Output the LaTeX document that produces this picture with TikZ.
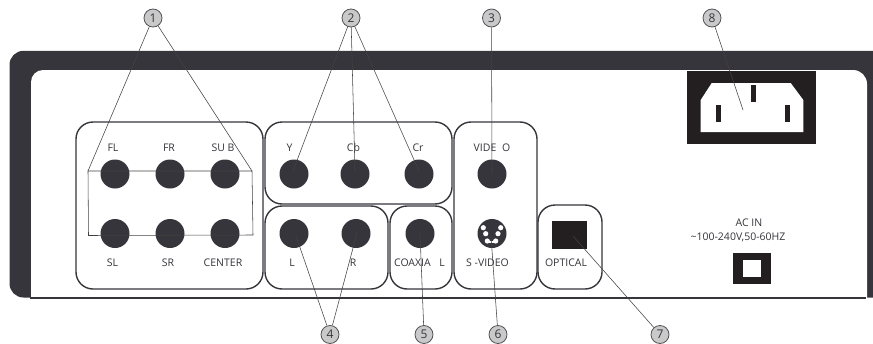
\documentclass[tikz,border=0pt]{standalone}
\usepackage{fontspec}
\setmainfont{Open Sans}
\usetikzlibrary{positioning}
\definecolor{chassis}{HTML}{36353B}
\definecolor{inkblack}{HTML}{231F20}
\definecolor{calloutgray}{HTML}{C9C9C9}
\tikzset{
  panel/.style={draw=chassis, line width=1.4pt, rounded corners=17pt, inner sep=0pt},
  jack/.style={circle, fill=chassis, minimum size=29pt, inner sep=0pt},
  tag/.style={text=chassis, font=\fontsize{10.5}{11}\selectfont, inner sep=0pt},
  callout/.style={circle, draw=chassis!85, line width=0.8pt, fill=calloutgray, text=chassis, minimum size=18pt, inner sep=0pt, font=\fontsize{12}{12}\selectfont},
  leader/.style={draw=inkblack!85, line width=0.55pt},
  hole/.style={circle, fill=white, minimum size=5.2pt, inner sep=0pt},
}
\begin{document}
\begin{tikzpicture}[x=1pt, y=-1pt]
  \useasboundingbox (0,0) rectangle (873,343);

  % Chassis
  \fill[chassis] (873,50.8) [rounded corners=14pt] -- (9.5,50.8) -- (9.5,297.5) [sharp corners] -- (873,297.5) -- cycle;
  \fill[white] (31,298) [rounded corners=12pt] -- (31,70) [rounded corners=14pt] -- (867,70) [sharp corners] -- (867,298) -- cycle;
  \fill[chassis] (30,297.4) rectangle (866,298.8);

  % Panels
  \node[panel, minimum width=187pt, minimum height=167pt] (boxSurround) at (169.5,205.5) {};
  \node[panel, minimum width=187pt, minimum height=82pt] (boxComponent) at (358.5,163) {};
  \node[panel, minimum width=123pt, minimum height=83pt] (boxStereo) at (326.5,247.5) {};
  \node[panel, minimum width=62pt, minimum height=83pt] (boxCoax) at (421,247.5) {};
  \node[panel, minimum width=83pt, minimum height=167pt] (boxVideo) at (495.5,205.5) {};
  \node[panel, minimum width=64pt, minimum height=84pt] (boxOptical) at (570,247) {};

  % Surround jacks
  \node[jack] (jackFL) at (115,174) {};
  \node[jack, on grid, right=55pt of jackFL] (jackFR) {};
  \node[jack, on grid, right=55pt of jackFR] (jackSUB) {};
  \node[jack, on grid, below=59.5pt of jackFL] (jackSL) {};
  \node[jack, on grid, right=55pt of jackSL] (jackSR) {};
  \node[jack, on grid, right=55pt of jackSR] (jackCEN) {};

  % Component and stereo jacks
  \node[jack] (jackY) at (294,174) {};
  \node[jack, on grid, right=61pt of jackY] (jackCb) {};
  \node[jack, on grid, right=64pt of jackCb] (jackCr) {};
  \node[jack, on grid, below=59.5pt of jackY] (jackL) {};
  \node[jack, on grid, right=62pt of jackL] (jackR) {};
  \node[jack, on grid, right=64pt of jackR] (jackCoax) {};
  \node[jack] (jackVideo) at (492,174) {};
  \node[jack, on grid, below=59.5pt of jackVideo] (jackSVideo) {};

  % S-video pins
  \foreach \px/\py in {-4.7/-7.5, 3.7/-7.5, -6.3/-0.2, 6/-0.2, -8.7/5.8, 8.7/5.8}
    \node[hole] at ([shift={(\px pt,\py pt)}]jackSVideo.center) {};
  \fill[white] (488.3,240.7) rectangle (496.3,243.4);

  % Optical port and mains parts
  \fill[inkblack] (552,221) rectangle (587,249);
  \fill[inkblack] (687,71) rectangle (816,144);
  \fill[white] (700.7,132) -- (700.7,100) -- (711.7,83) -- (790.7,83) -- (803.3,100) -- (803.3,132) -- cycle;
  \fill[inkblack] (751,85) rectangle (756,102);
  \fill[inkblack] (716,105) rectangle (721,122);
  \fill[inkblack] (785,105) rectangle (790,122);
  \fill[inkblack] (733,253) rectangle (771,284);
  \fill[white] (743,260) rectangle (761,277);

  % Labels
  \node[tag] (txtFL) at (113,148) {FL};
  \node[tag] (txtFR) at (169,148) {FR};
  \node[tag] (txtSUB) at (223,148) {SU B};
  \node[tag] (txtSL) at (112.5,263) {SL};
  \node[tag] (txtSR) at (168,263) {SR};
  \node[tag] (txtCEN) at (223,263) {CENTER};
  \node[tag] (txtY) at (289.5,148) {Y};
  \node[tag] (txtCb) at (353.5,148) {Cb};
  \node[tag] (txtCr) at (418,148) {Cr};
  \node[tag] (txtVideo) at (492,148) {VIDE\hspace{3pt} O};
  \node[tag] (txtL) at (292,263) {L};
  \node[tag] (txtR) at (353,263) {R};
  \node[tag] (txtCoax) at (419.5,263) {COAXIA\hspace{6pt} L};
  \node[tag] (txtSVideo) at (487.5,263) {S -VIDEO};
  \node[tag] (txtOptical) at (566,263) {OPTICAL};
  \node[tag] (txtAC) at (749,223) {AC IN};
  \node[tag] (txtRange) at (738,237) {\textasciitilde100-240V,50-60HZ};

  % Callouts
  \node[callout] (num1) at (153,18) {1};
  \node[callout] (num2) at (351,18) {2};
  \node[callout] (num3) at (491.5,18) {3};
  \node[callout] (num4) at (330,334.5) {4};
  \node[callout] (num5) at (424,334.5) {5};
  \node[callout] (num6) at (498,334.5) {6};
  \node[callout] (num7) at (660,334.5) {7};
  \node[callout] (num8) at (712,18) {8};

  % Free ends of the leaders
  \coordinate (cornerA) at (88,171);
  \coordinate (cornerB) at (252,171);
  \coordinate (cornerC) at (253,235);
  \coordinate (cornerD) at (88.5,235.5);
  \coordinate (endY) at (293,171);
  \coordinate (endCb) at (355,171);
  \coordinate (endCr) at (419,171);
  \coordinate (endL) at (296,236);
  \coordinate (endR) at (357,233);
  \coordinate (endCoax) at (420,233);
  \coordinate (endVideo) at (492,174);
  \coordinate (endSVideo) at (491,236);
  \coordinate (endOptical) at (573,236);
  \coordinate (endMains) at (743,110);

  \draw[leader] (cornerB) -- (num1) -- (cornerA);
  \draw[leader] (cornerA) -- (cornerB) -- (cornerC) -- (cornerD) -- cycle;
  \draw[leader] (num2) -- (endY);
  \draw[leader] (num2) -- (endCb);
  \draw[leader] (num2) -- (endCr);
  \draw[leader] (num3) -- (endVideo);
  \draw[leader] (num4) -- (endL);
  \draw[leader] (num4) -- (endR);
  \draw[leader] (num5) -- (endCoax);
  \draw[leader] (num6) -- (endSVideo);
  \draw[leader] (num7) -- (endOptical);
  \draw[leader] (num8) -- (endMains);
\end{tikzpicture}
\end{document}
